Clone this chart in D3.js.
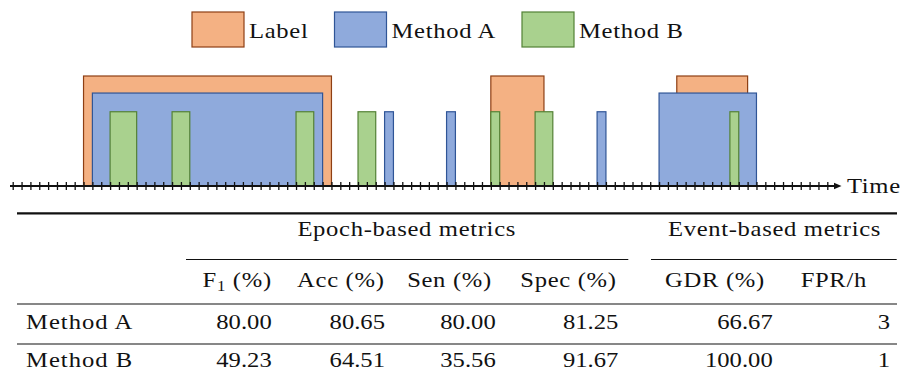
<!DOCTYPE html>
<html>
<head>
<meta charset="utf-8">
<script src="https://cdn.jsdelivr.net/npm/d3@7"></script>
<style>
  body { margin: 0; background: #fff; }
  text { font-family: "Liberation Serif", "DejaVu Serif", serif; fill: #111; font-size: 22px; }
</style>
</head>
<body>
<script>
// Canvas
var width = 907, height = 380;

// ---- data ----
var categories = ["Label", "Method A", "Method B"];

// events as [start epoch, end epoch] on the time grid
var labelEvents   = [[8, 36], [54, 60], [75, 83]];
var methodAEvents = [[9, 35], [42, 43], [49, 50], [66, 67], [73, 84]];
var methodBEvents = [[11, 14], [18, 20], [32, 34], [39, 41], [54, 55], [59, 61], [81, 82]];
var nEpochs = 92;

var groupHeaders = ["Epoch-based metrics", "Event-based metrics"];
var metricNames = ["F", "Acc (%)", "Sen (%)", "Spec (%)", "GDR (%)", "FPR/h"];
var methodNames = ["Method A", "Method B"];
var methodAValues = [80.00, 80.65, 80.00, 81.25, 66.67, 3];
var methodBValues = [49.23, 64.51, 35.56, 91.67, 100.00, 1];

// ---- styles ----
var fills   = {"Label": "#f4b183", "Method A": "#8faadc", "Method B": "#a9d18e"};
var strokes = {"Label": "#8e3f14", "Method A": "#2f5597", "Method B": "#538135"};
// drawing tier (box height) of every event, one per event
var labelTier   = [1, 1, 1];
var methodATier = [0.845, 0.675, 0.675, 0.675, 0.845];
var methodBTier = [0.675, 0.675, 0.675, 0.675, 0.675, 0.675, 0.675];

var textScale = 1.12;

var svg = d3.select("body")
    .append("svg")
        .attr("width", width)
        .attr("height", height);

// text helper: serif text widened a little to get closer to the LaTeX look
function addText(xx, yy, str, anchor, spacing) {
    return svg.append("text")
        .attr("transform", "translate(" + xx + "," + yy + ") scale(" + textScale + ",1)")
        .attr("text-anchor", anchor || "start")
        .style("letter-spacing", (spacing || 0) + "px")
        .text(str);
}

// Set the ranges
var x = d3.scaleLinear().domain([0, nEpochs]).range([12.7, 827.3]);
var y = d3.scaleLinear().domain([0, 1]).range([186, 76]);

// Draw events, label first so methods sit in front
var series = [
    {name: "Label", events: labelEvents, tier: labelTier},
    {name: "Method A", events: methodAEvents, tier: methodATier},
    {name: "Method B", events: methodBEvents, tier: methodBTier}
];

series.forEach(function(s) {
    svg.append("g")
        .selectAll("rect")
        .data(s.events)
        .enter().append("rect")
            .attr("x", function(d) { return x(d[0]); })
            .attr("y", function(d, i) { return y(s.tier[i]); })
            .attr("width", function(d) { return x(d[1]) - x(d[0]); })
            .attr("height", function(d, i) { return y(0) - y(s.tier[i]); })
            .style("fill", fills[s.name])
            .style("stroke", strokes[s.name])
            .style("stroke-width", 1.2);
});

// Time axis: ticks crossing the line
var xAxis = d3.axisBottom(x)
    .tickValues(d3.range(0, nEpochs + 1))
    .tickSize(8)
    .tickFormat("");

svg.append("g")
    .attr("class", "x axis")
    .attr("transform", "translate(0," + (y(0) - 4) + ")")
    .call(xAxis)
    .call(function(g) { g.select(".domain").remove(); })
    .selectAll("line")
        .style("stroke", "#111")
        .style("stroke-width", 1.3);

svg.append("line")
    .attr("x1", 10).attr("x2", 836)
    .attr("y1", y(0)).attr("y2", y(0))
    .style("stroke", "#111")
    .style("stroke-width", 1.8);

svg.append("path")
    .attr("d", "M834," + (y(0) - 3.2) + "L841.5," + y(0) + "L834," + (y(0) + 3.2) + "Z")
    .style("fill", "#111");

addText(847, y(0) + 6.5, "Time", "start", 0.6);

// Legend
var legendX = [192, 334.5, 522];
var legend = svg.append("g").attr("class", "legend");
categories.forEach(function(c, i) {
    legend.append("rect")
        .attr("x", legendX[i])
        .attr("y", 12)
        .attr("width", 52)
        .attr("height", 35)
        .style("fill", fills[c])
        .style("stroke", strokes[c])
        .style("stroke-width", 1.2);
    addText(legendX[i] + 57, 38, c, "start", 0.6);
});

// ---- table ----
var tableLeft = 17, tableRight = 897;
var colRight = [271.7, 385, 495.7, 618.3, 772.7, 890];
var colCenter = [237.2, 340.8, 449.5, 568.5, 715, 833.8];
var groupCenter = [406.7, 774.5];
var groupSpan = [[186, 628.3], [651, 896.7]];

function rule(x1, x2, yy, w) {
    svg.append("line")
        .attr("x1", x1).attr("x2", x2)
        .attr("y1", yy).attr("y2", yy)
        .style("stroke", "#111")
        .style("stroke-width", w);
}

rule(tableLeft, tableRight, 213.3, 2.2);
groupSpan.forEach(function(s) { rule(s[0], s[1], 259.5, 1.1); });
rule(tableLeft, tableRight, 304, 1.1);
rule(tableLeft, tableRight, 344, 1.1);

groupHeaders.forEach(function(h, i) {
    addText(groupCenter[i], 236, h, "middle", 0.6);
});

metricNames.forEach(function(m, i) {
    if (i === 0) {
        var t = addText(colCenter[i], 287, "", "middle", 0.6);
        t.append("tspan").text(m);
        t.append("tspan").attr("dy", 4).style("font-size", "15px").text("1");
        t.append("tspan").attr("dy", -4).text(" (%)");
    } else {
        addText(colCenter[i], 287, m, "middle", 0.6);
    }
});

var rows = [methodAValues, methodBValues];
var rowBaseline = [328.5, 366.5];

rows.forEach(function(vals, r) {
    addText(26, rowBaseline[r], methodNames[r], "start", 0.9);
    vals.forEach(function(d, i) {
        var str = i === 5 ? d3.format("d")(d) : d3.format(".2f")(d);
        addText(colRight[i], rowBaseline[r], str, "end", 0);
    });
});
</script>
</body>
</html>
